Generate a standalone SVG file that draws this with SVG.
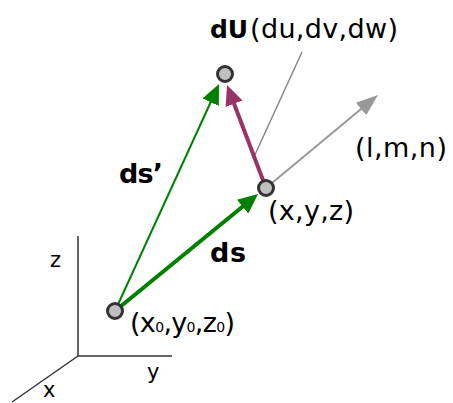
<svg xmlns="http://www.w3.org/2000/svg" width="453" height="403" viewBox="0 0 453 403">
<style>
.t{font-family:"DejaVu Sans","Liberation Sans",sans-serif;font-size:27px;fill:#000}
.b{font-family:"DejaVu Sans","Liberation Sans",sans-serif;font-weight:bold;fill:#000}
.ax{font-family:"DejaVu Sans","Liberation Sans",sans-serif;font-size:21px;fill:#000}
.node{fill:#c0c0c0;stroke:#333;stroke-width:3}
.axis{stroke:#333;stroke-width:1.5;fill:none}
</style>
<defs>
<marker id="ag" markerUnits="userSpaceOnUse" markerWidth="20" markerHeight="18" viewBox="0 0 20 18" refX="14" refY="9" orient="auto"><path d="M0,0 L20,9 L0,18 z" fill="#008000"/></marker>
<marker id="ap" markerUnits="userSpaceOnUse" markerWidth="20" markerHeight="18" viewBox="0 0 20 18" refX="14" refY="9" orient="auto"><path d="M0,0 L20,9 L0,18 z" fill="#993366"/></marker>
<marker id="ay" markerUnits="userSpaceOnUse" markerWidth="22" markerHeight="16" viewBox="0 0 22 16" refX="16" refY="8" orient="auto"><path d="M0,0 L22,8 L0,16 z" fill="#999"/></marker>
</defs>
<g id="axes">
<path class="axis" d="M78,236 L78,356 L172,356 M78,356 L12,402"/>
<text class="ax" x="50" y="267">z</text>
<text class="ax" x="147" y="379">y</text>
<text class="ax" x="43" y="397">x</text>
</g>
<g id="connectors">
<line x1="253" y1="159" x2="302" y2="52" stroke="#888" stroke-width="1.5"/>
<line x1="266" y1="188" x2="373.4" y2="98.8" stroke="#999" stroke-width="2" marker-end="url(#ay)"/>
<line x1="115" y1="311" x2="216.5" y2="89.5" stroke="#008000" stroke-width="2" marker-end="url(#ag)"/>
<line x1="115" y1="311" x2="253.4" y2="197.8" stroke="#008000" stroke-width="4" marker-end="url(#ag)"/>
<line x1="266" y1="188" x2="229.1" y2="90.6" stroke="#993366" stroke-width="4" marker-end="url(#ap)"/>
<text class="b" x="119" y="183" font-size="27" textLength="44">ds’</text>
<text class="b" x="210" y="262" font-size="27" textLength="36">ds</text>
<text class="t" x="355" y="157" textLength="92">(l,m,n)</text>
</g>
<g id="node-dU">
<circle class="node" cx="225" cy="74" r="7.5"/>
<text class="b" x="210" y="38" font-size="25" textLength="38">dU</text>
<text class="t" x="250" y="38" textLength="148">(du,dv,dw)</text>
</g>
<g id="node-xyz">
<circle class="node" cx="266" cy="188" r="7.5"/>
<text class="t" x="268" y="220" textLength="86">(x,y,z)</text>
</g>
<g id="node-x0">
<circle class="node" cx="115" cy="311" r="7.5"/>
<text class="t" x="130" y="332" textLength="105">(x<tspan font-size="14">0</tspan>,y<tspan font-size="14">0</tspan>,z<tspan font-size="14">0</tspan>)</text>
</g>
</svg>
